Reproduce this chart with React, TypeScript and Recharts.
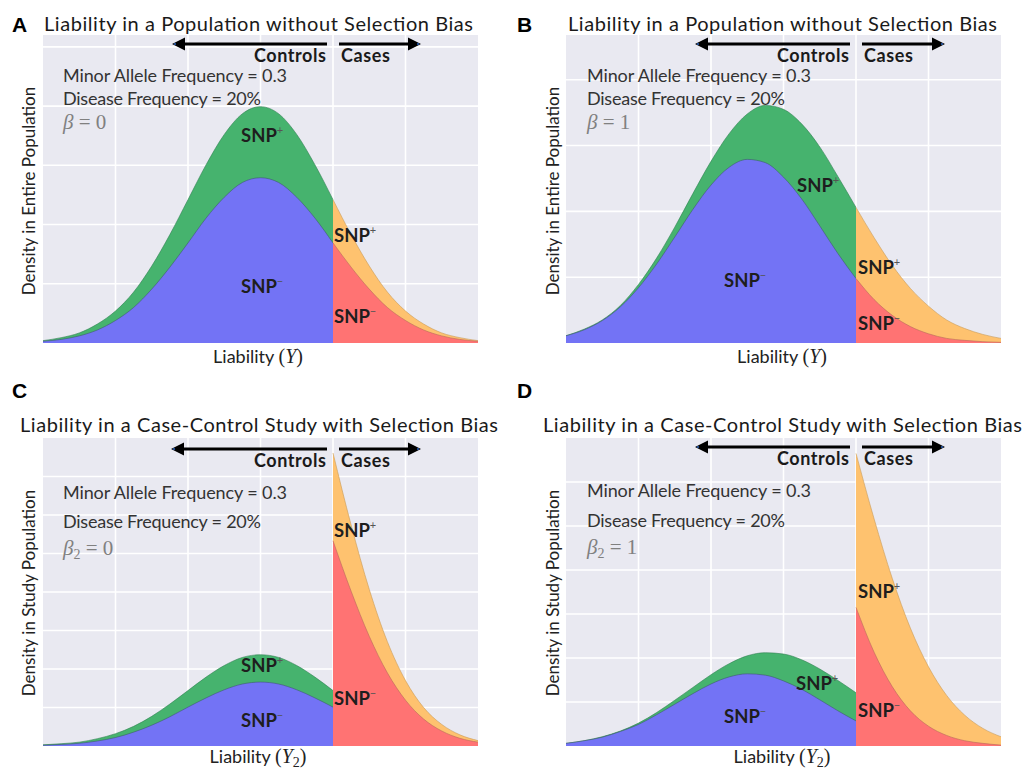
import React from "react";
import { ComposedChart, Area, XAxis, YAxis, CartesianGrid } from "recharts";

// liability axis (in SD units), threshold between controls and cases
const liability = [-3, -2.75, -2.5, -2.25, -2, -1.75, -1.5, -1.25, -1, -0.75, -0.5, -0.25, 0, 0.25, 0.5, 0.75, 1, 1.25, 1.5, 1.75, 2, 2.25, 2.5, 2.75, 3];
const threshold = 1;
const xTicks = [-2, -1, 0, 1, 2];

// A: population, beta = 0  (controls: x = -3..1, cases: x = 1..3)
const aCtrlMinus = [0.003, 0.006, 0.012, 0.022, 0.038, 0.060, 0.091, 0.128, 0.169, 0.211, 0.246, 0.271, 0.279, 0.271, 0.246, 0.211, 0.169];
const aCtrlPlus = [0.001, 0.003, 0.005, 0.010, 0.016, 0.026, 0.039, 0.055, 0.073, 0.090, 0.106, 0.116, 0.120, 0.116, 0.106, 0.090, 0.073];
const aCaseMinus = [0.169, 0.128, 0.091, 0.060, 0.038, 0.022, 0.012, 0.006, 0.003];
const aCasePlus = [0.073, 0.055, 0.039, 0.026, 0.016, 0.010, 0.005, 0.003, 0.001];

// B: population, beta = 1
const bCtrlMinus = [0.011, 0.020, 0.034, 0.055, 0.084, 0.120, 0.161, 0.203, 0.240, 0.267, 0.279, 0.274, 0.252, 0.219, 0.178, 0.136, 0.098];
const bCtrlPlus = [0.000, 0.001, 0.001, 0.002, 0.005, 0.009, 0.015, 0.024, 0.036, 0.051, 0.069, 0.087, 0.103, 0.114, 0.120, 0.117, 0.108];
const bCaseMinus = [0.098, 0.066, 0.042, 0.025, 0.014, 0.007, 0.004, 0.002, 0.001];
const bCasePlus = [0.108, 0.094, 0.076, 0.058, 0.042, 0.028, 0.018, 0.011, 0.006];

// C: case-control study, beta2 = 0
const cCtrlMinus = [0.002, 0.004, 0.007, 0.013, 0.022, 0.036, 0.054, 0.076, 0.101, 0.125, 0.146, 0.161, 0.166, 0.161, 0.146, 0.125, 0.101];
const cCtrlPlus = [0.001, 0.002, 0.003, 0.006, 0.010, 0.015, 0.023, 0.033, 0.043, 0.054, 0.063, 0.069, 0.071, 0.069, 0.063, 0.054, 0.043];
const cCaseMinus = [0.533, 0.402, 0.285, 0.190, 0.119, 0.070, 0.039, 0.020, 0.010];
const cCasePlus = [0.228, 0.172, 0.122, 0.081, 0.051, 0.030, 0.017, 0.009, 0.004];

// D: case-control study, beta2 = 1
const dCtrlMinus = [0.006, 0.012, 0.020, 0.033, 0.049, 0.071, 0.095, 0.119, 0.141, 0.157, 0.164, 0.161, 0.148, 0.129, 0.105, 0.080, 0.057];
const dCtrlPlus = [0.000, 0.000, 0.001, 0.001, 0.003, 0.005, 0.009, 0.014, 0.021, 0.030, 0.041, 0.051, 0.061, 0.067, 0.070, 0.069, 0.064];
const dCaseMinus = [0.315, 0.213, 0.135, 0.080, 0.045, 0.024, 0.012, 0.006, 0.002];
const dCasePlus = [0.350, 0.303, 0.246, 0.188, 0.135, 0.091, 0.058, 0.034, 0.019];

const BLUE = "#7373f5";
const GREEN = "#46b36e";
const ORANGE = "#fec26f";
const RED = "#ff7373";
const BG = "#e9e9f1";
const SANS = "Lato, 'Open Sans', sans-serif";
const SERIF = "'Liberation Serif', 'DejaVu Serif', serif";

type PanelCfg = {
  left: number
  top: number
  width: number
  height: number
  margin: { top: number; right: number; bottom: number; left: number }
  yMax: number
  yTicks: number[]
  ctrlMinus: number[]
  ctrlPlus: number[]
  caseMinus: number[]
  casePlus: number[]
}

const panels: PanelCfg[] = [
  { left: 0, top: 0, width: 512, height: 380, margin: { top: 35, right: 34, bottom: 37, left: 43 }, yMax: 0.52, yTicks: [0.1, 0.2, 0.3, 0.4, 0.5], ctrlMinus: aCtrlMinus, ctrlPlus: aCtrlPlus, caseMinus: aCaseMinus, casePlus: aCasePlus },
  { left: 512, top: 0, width: 512, height: 380, margin: { top: 35, right: 23, bottom: 37, left: 54 }, yMax: 0.468, yTicks: [0.1, 0.2, 0.3, 0.4], ctrlMinus: bCtrlMinus, ctrlPlus: bCtrlPlus, caseMinus: bCaseMinus, casePlus: bCasePlus },
  { left: 0, top: 400, width: 512, height: 369, margin: { top: 38, right: 34, bottom: 23, left: 43 }, yMax: 0.8, yTicks: [0.1, 0.2, 0.3, 0.4, 0.5, 0.6, 0.7], ctrlMinus: cCtrlMinus, ctrlPlus: cCtrlPlus, caseMinus: cCaseMinus, casePlus: cCasePlus },
  { left: 512, top: 400, width: 512, height: 369, margin: { top: 38, right: 23, bottom: 23, left: 54 }, yMax: 0.7, yTicks: [0.1, 0.2, 0.3, 0.4, 0.5, 0.6], ctrlMinus: dCtrlMinus, ctrlPlus: dCtrlPlus, caseMinus: dCaseMinus, casePlus: dCasePlus },
];

function buildRows(p: PanelCfg) {
  const cut = liability.indexOf(threshold);
  return liability.map((x, i) => {
    const row: Record<string, number | null> = { x, ctrlMinus: null, ctrlTotal: null, caseMinus: null, caseTotal: null };
    if (i <= cut) {
      row.ctrlMinus = p.ctrlMinus[i];
      row.ctrlTotal = p.ctrlMinus[i] + p.ctrlPlus[i];
    }
    if (i >= cut) {
      const j = i - cut;
      row.caseMinus = p.caseMinus[j];
      row.caseTotal = p.caseMinus[j] + p.casePlus[j];
    }
    return row;
  });
}

function Panel({ p }: { p: PanelCfg }) {
  const rows = buildRows(p);
  // grid lines placed through the axis scales (fallback: linear map over the plot offset)
  const vGen = ({ xAxis, offset }: any) =>
    xTicks.map((v) => (xAxis && typeof xAxis.scale === "function" ? xAxis.scale(v) : offset.left + (offset.width * (v + 3)) / 6));
  const hGen = ({ yAxis, offset }: any) =>
    p.yTicks.map((v) => (yAxis && typeof yAxis.scale === "function" ? yAxis.scale(v) : offset.top + offset.height * (1 - v / p.yMax)));
  return (
    <div style={{ position: "absolute", left: p.left, top: p.top }}>
      <ComposedChart width={p.width} height={p.height} data={rows} margin={p.margin}>
        <CartesianGrid stroke="#ffffff" strokeWidth={1.6} fill={BG} fillOpacity={1} verticalCoordinatesGenerator={vGen} horizontalCoordinatesGenerator={hGen} />
        <XAxis dataKey="x" type="number" domain={[-3, 3]} ticks={xTicks} tick={false} axisLine={false} tickLine={false} height={0} />
        <YAxis type="number" domain={[0, p.yMax]} ticks={p.yTicks} tick={false} axisLine={false} tickLine={false} width={0} />
        <Area type="monotone" dataKey="ctrlTotal" fill={GREEN} fillOpacity={1} stroke="#2f7f50" strokeWidth={0.6} isAnimationActive={false} />
        <Area type="monotone" dataKey="ctrlMinus" fill={BLUE} fillOpacity={1} stroke="#3f5a70" strokeWidth={0.6} isAnimationActive={false} />
        <Area type="monotone" dataKey="caseTotal" fill={ORANGE} fillOpacity={1} stroke="#c99a55" strokeWidth={0.6} isAnimationActive={false} />
        <Area type="monotone" dataKey="caseMinus" fill={RED} fillOpacity={1} stroke="#b86a5a" strokeWidth={0.6} isAnimationActive={false} />
      </ComposedChart>
    </div>
  );
}

function Arrows({ y, leftTip, leftEnd, rightStart, rightTip, textY }: { y: number; leftTip: number; leftEnd: number; rightStart: number; rightTip: number; textY: number }) {
  return (
    <g>
      <line x1={leftTip + 10} y1={y} x2={leftEnd} y2={y} stroke="#000" strokeWidth={3} />
      <polygon points={`${leftTip},${y} ${leftTip + 13},${y - 6.5} ${leftTip + 13},${y + 6.5}`} fill="#000" />
      <circle cx={leftTip + 3} cy={y} r={1.1} fill="#2a5db0" />
      <line x1={rightStart} y1={y} x2={rightTip - 10} y2={y} stroke="#000" strokeWidth={3} />
      <polygon points={`${rightTip},${y} ${rightTip - 13},${y - 6.5} ${rightTip - 13},${y + 6.5}`} fill="#000" />
      <circle cx={rightTip - 3} cy={y} r={1.1} fill="#2a5db0" />
      <text x={leftEnd - 1} y={textY} textAnchor="end" fontFamily={SANS} fontWeight={700} fontSize={18} fill="#1a1a1a" textLength={72}>Controls</text>
      <text x={rightStart + 2} y={textY} fontFamily={SANS} fontWeight={700} fontSize={18} fill="#1a1a1a" textLength={49}>Cases</text>
    </g>
  );
}

function Snp({ x, y, sign }: { x: number; y: number; sign: string }) {
  return (
    <text x={x} y={y} fontFamily={SANS} fontWeight={700} fontSize={18.5} fill="#1e1e1e">
      SNP<tspan dy={-8} fontSize={11} fontWeight={400} fill="#555">{sign}</tspan>
    </text>
  );
}

function Params({ x, y1, y2, y3, beta }: { x: number; y1: number; y2: number; y3: number; beta: React.ReactNode }) {
  return (
    <g fontFamily={SANS} fontSize={18} fill="#333">
      <text x={x} y={y1} textLength={224}>Minor Allele Frequency = 0.3</text>
      <text x={x} y={y2} textLength={198}>Disease Frequency = 20%</text>
      <text x={x} y={y3} fontFamily={SERIF} fontSize={21} fill="#808080">{beta}</text>
    </g>
  );
}

const beta = (sub: boolean, v: string) => (
  <>
    <tspan fontStyle="italic">β</tspan>
    {sub ? <tspan fontSize={14} dy={4}>2</tspan> : null}
    <tspan dy={sub ? -4 : 0}>{` = ${v}`}</tspan>
  </>
);

function XLabel({ cx, y, sub }: { cx: number; y: number; sub: boolean }) {
  return (
    <text x={cx} y={y} textAnchor="middle" fontFamily={SANS} fontSize={18} fill="#222">
      Liability <tspan fontFamily={SERIF} fontSize={20}>(</tspan>
      <tspan fontFamily={SERIF} fontSize={20} fontStyle="italic">Y</tspan>
      {sub ? <tspan fontFamily={SERIF} fontSize={14} dy={4}>2</tspan> : null}
      <tspan fontFamily={SERIF} fontSize={20} dy={sub ? -4 : 0}>)</tspan>
    </text>
  );
}

function YLabel({ cx, cy, label }: { cx: number; cy: number; label: string }) {
  return (
    <text x={cx} y={cy} transform={`rotate(-90 ${cx} ${cy})`} textAnchor="middle" dominantBaseline="central" fontFamily={SANS} fontSize={17} fill="#222">
      {label}
    </text>
  );
}

function Overlay() {
  const title = { fontFamily: SANS, fontSize: 20, fill: "#1a1a1a" };
  const letter = { fontFamily: "'Liberation Sans', Arial, sans-serif", fontWeight: 700, fontSize: 21, fill: "#000" };
  return (
    <svg width={1024} height={769} style={{ position: "absolute", left: 0, top: 0, pointerEvents: "none" }}>
      {/* A */}
      <text x={12} y={32} {...letter}>A</text>
      <text x={44} y={31} {...title} textLength={429}>Liability in a Population without Selection Bias</text>
      <Arrows y={44} leftTip={172} leftEnd={327} rightStart={339} rightTip={421} textY={62} />
      <Params x={63} y1={82} y2={105} y3={129} beta={beta(false, "0")} />
      <Snp x={241} y={142} sign="+" />
      <Snp x={241} y={293} sign="−" />
      <Snp x={334} y={242} sign="+" />
      <Snp x={334} y={323} sign="−" />
      <XLabel cx={258} y={363} sub={false} />
      <YLabel cx={28} cy={191} label="Density in Entire Population" />

      {/* B */}
      <text x={517} y={32} {...letter}>B</text>
      <text x={568} y={31} {...title} textLength={429}>Liability in a Population without Selection Bias</text>
      <Arrows y={44} leftTip={695} leftEnd={850} rightStart={862} rightTip={945} textY={62} />
      <Params x={587} y1={82} y2={105} y3={129} beta={beta(false, "1")} />
      <Snp x={797} y={192} sign="+" />
      <Snp x={724} y={287} sign="−" />
      <Snp x={858} y={274} sign="+" />
      <Snp x={858} y={330} sign="−" />
      <XLabel cx={782} y={363} sub={false} />
      <YLabel cx={552} cy={191} label="Density in Entire Population" />

      {/* C */}
      <text x={12} y={398} {...letter}>C</text>
      <text x={20} y={432} {...title} textLength={478}>Liability in a Case-Control Study with Selection Bias</text>
      <Arrows y={449} leftTip={171} leftEnd={327} rightStart={339} rightTip={421} textY={467} />
      <Params x={63} y1={499} y2={528} y3={555} beta={beta(true, "0")} />
      <Snp x={241} y={672} sign="+" />
      <Snp x={241} y={727} sign="−" />
      <Snp x={334} y={537} sign="+" />
      <Snp x={334} y={705} sign="−" />
      <XLabel cx={258} y={763} sub={true} />
      <YLabel cx={28} cy={593} label="Density in Study Population" />

      {/* D */}
      <text x={517} y={398} {...letter}>D</text>
      <text x={543} y={432} {...title} textLength={479}>Liability in a Case-Control Study with Selection Bias</text>
      <Arrows y={447} leftTip={695} leftEnd={850} rightStart={862} rightTip={945} textY={465} />
      <Params x={587} y1={497} y2={527} y3={554} beta={beta(true, "1")} />
      <Snp x={796} y={690} sign="+" />
      <Snp x={724} y={723} sign="−" />
      <Snp x={858} y={598} sign="+" />
      <Snp x={858} y={717} sign="−" />
      <XLabel cx={782} y={763} sub={true} />
      <YLabel cx={552} cy={593} label="Density in Study Population" />
    </svg>
  );
}

export default function App() {
  return (
    <div style={{ position: "absolute", left: 0, top: 0, width: 1024, height: 769, background: "#fff", overflow: "hidden" }}>
      {panels.map((p, i) => (
        <Panel key={i} p={p} />
      ))}
      <Overlay />
    </div>
  );
}
